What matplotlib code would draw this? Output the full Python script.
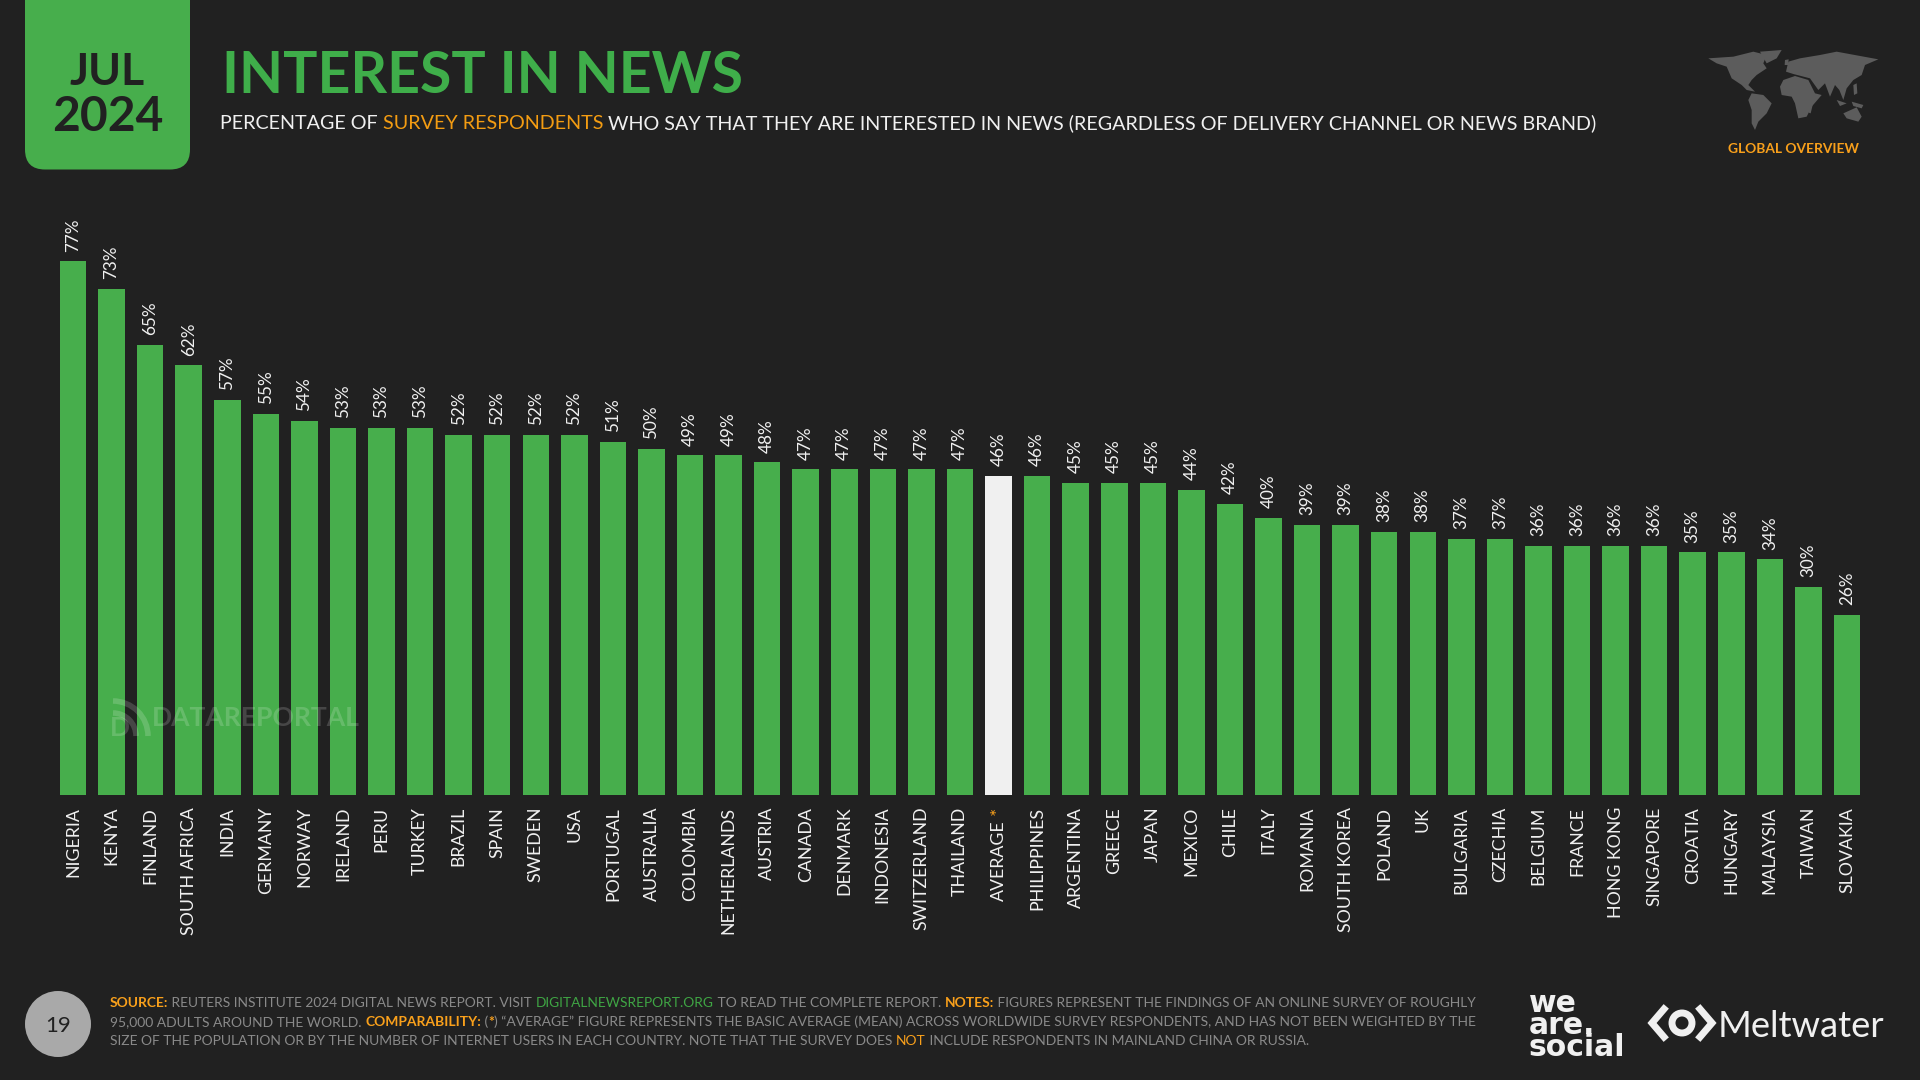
import matplotlib
matplotlib.use("Agg")
import matplotlib.pyplot as plt
from matplotlib.patches import FancyBboxPatch, Circle, Polygon, Arc

countries = ["NIGERIA","KENYA","FINLAND","SOUTH AFRICA","INDIA","GERMANY","NORWAY","IRELAND","PERU","TURKEY",
             "BRAZIL","SPAIN","SWEDEN","USA","PORTUGAL","AUSTRALIA","COLOMBIA","NETHERLANDS","AUSTRIA","CANADA",
             "DENMARK","INDONESIA","SWITZERLAND","THAILAND","AVERAGE","PHILIPPINES","ARGENTINA","GREECE","JAPAN","MEXICO",
             "CHILE","ITALY","ROMANIA","SOUTH KOREA","POLAND","UK","BULGARIA","CZECHIA","BELGIUM","FRANCE",
             "HONG KONG","SINGAPORE","CROATIA","HUNGARY","MALAYSIA","TAIWAN","SLOVAKIA"]
values = [77,73,65,62,57,55,54,53,53,53,
          52,52,52,52,51,50,49,49,48,47,
          47,47,47,47,46,46,45,45,45,44,
          42,40,39,39,38,38,37,37,36,36,
          36,36,35,35,34,30,26]
highlight = "AVERAGE"

BG = "#212121"; GREEN = "#47AE4C"; TITLE = "#3FAE4A"; WHITE = "#F0F0F0"
ORANGE = "#F9A01B"; GREY = "#8A8A8A"; LINK = "#3FA544"; MAP = "#5C5C5C"
FONT = "Lato"

fig = plt.figure(figsize=(19.2, 10.8), dpi=100, facecolor=BG)
W, H = 1920, 1080

step = 38.57
ax_l, ax_r = 73 - step / 2, 1847 + step / 2
base_y, top_y = 795, 200
ax = fig.add_axes([ax_l / W, 1 - base_y / H, (ax_r - ax_l) / W, (base_y - top_y) / H], facecolor="none", zorder=1)
ax.set_xlim(-0.5, len(values) - 0.5)
ax.set_ylim(0, (base_y - top_y) / 6.93)
colors = [WHITE if c == highlight else GREEN for c in countries]
bars = ax.bar(range(len(values)), values, width=26.5 / step, color=colors)
ax.bar_label(bars, labels=[f"{v}%" for v in values], rotation=90, padding=7, color=WHITE,
             fontsize=12.3, family=FONT)
ax.set_xticks(range(len(values)))
ax.set_xticklabels(["" if c == highlight else c for c in countries], rotation=90, family=FONT,
                   fontsize=12.8, color=WHITE, va="top", ha="center")
ax.tick_params(axis="x", length=0, pad=8.5)
ax.tick_params(axis="y", left=False, labelleft=False)
for s in ax.spines.values():
    s.set_visible(False)
i_avg = countries.index(highlight)
ax.annotate("*", xy=(i_avg, 0), xycoords=("data", "axes fraction"), xytext=(0, -8.5), textcoords="offset points",
            rotation=90, family=FONT, fontsize=14, color=ORANGE, ha="center", va="top")
ax.annotate(highlight, xy=(i_avg, 0), xycoords=("data", "axes fraction"), xytext=(0, -18), textcoords="offset points",
            rotation=90, family=FONT, fontsize=12.8, color=WHITE, ha="center", va="top")

ov = fig.add_axes([0, 0, 1, 1], facecolor="none", zorder=5)
ov.set_xlim(0, W); ov.set_ylim(H, 0); ov.axis("off")
renderer = fig.canvas.get_renderer()

def tw(s, fs, family, weight):
    t = ov.text(0, 0, s, fontsize=fs, family=family, weight=weight)
    w = t.get_window_extent(renderer).width
    t.remove()
    return w

def width(s, fs, family, weight):
    return tw("|" + s + "|", fs, family, weight) - tw("||", fs, family, weight)

def spans(parts, x, y, target, family=FONT, alpha=None):
    """parts: (text, colour, weight); scaled so the whole run spans the target width."""
    total = sum(width(p[0], 20, family, p[2]) for p in parts)
    fs = 20 * target / total
    for s, c, wt in parts:
        ov.text(x, y, s, fontsize=fs, family=family, weight=wt, color=c, va="baseline", ha="left", alpha=alpha)
        x += width(s, fs, family, wt)
    return fs

# badge
ov.add_patch(FancyBboxPatch((25, -40), 165, 209.5, boxstyle="round,pad=0,rounding_size=20", fc=GREEN, ec="none"))
spans([("JUL", BG, "bold")], 69, 85, 75)
spans([("2024", BG, "bold")], 52, 131, 111)

spans([("INTEREST IN NEWS", TITLE, "bold")], 222, 93, 520)
spans([("PERCENTAGE OF ", WHITE, "normal"), ("SURVEY RESPONDENTS", "#F39C12", "normal"),
       (" WHO SAY THAT THEY ARE INTERESTED IN NEWS (REGARDLESS OF DELIVERY CHANNEL OR NEWS BRAND)", WHITE, "normal")],
      220, 129, 1378)

# world map (decorative silhouette)
zx = lambda p: (1500 + p[0] / 3, p[1] / 3)
map_shapes = [
    [(625,175),(700,170),(760,155),(800,165),(790,190),(800,205),(770,225),(755,240),(745,255),(765,275),(740,270),(725,255),(695,235),(680,200),(650,190)],
    [(780,155),(845,150),(830,175),(800,190)],
    [(755,280),(790,285),(815,310),(800,340),(775,365),(765,390),(755,370),(755,330),(745,300)],
    [(850,240),(885,228),(925,240),(945,280),(965,285),(935,320),(920,350),(895,355),(885,310),(875,290),(845,285),(840,260)],
    [(858,215),(865,185),(900,175),(960,165),(1010,155),(1135,178),(1095,195),(1085,225),(1060,240),(1040,265),(1030,300),(1018,270),(1005,255),(990,290),(975,250),(955,270),(930,235),(880,222)],
    [(1030,340),(1070,322),(1085,350),(1075,365),(1040,355)],
    [(928,320),(938,315),(932,340),(926,338)],
    [(1010,300),(1040,310),(1020,318)],
    [(1055,305),(1090,315),(1085,325),(1060,318)],
    [(1060,255),(1070,250),(1072,280),(1062,285)],
    [(855,180),(866,178),(864,195),(854,195)],
]
for sh in map_shapes:
    ov.add_patch(Polygon([zx(p) for p in sh], closed=True, fc=MAP, ec="none"))
spans([("GLOBAL OVERVIEW", ORANGE, "bold")], 1728, 153, 131)

# watermark
spans([("DATAREPORTAL", "white", "bold")], 152, 726, 208, alpha=0.17)
for d, lw in ((70, 4), (46, 4)):
    ov.add_patch(Arc((113, 736), d, d, theta1=270, theta2=360, ec="white", lw=lw, alpha=0.17))
ov.text(110, 736, "D", fontsize=19, family=FONT, weight="bold", va="baseline", ha="left", color="white", alpha=0.17)

# footer
ov.add_patch(Circle((58, 1024), 33, fc="#A9A9A9", ec="none"))
ov.text(58, 1024, "19", fontsize=16, family=FONT, color=BG, ha="center", va="center_baseline")
spans([("SOURCE:", ORANGE, "bold"), (" REUTERS INSTITUTE 2024 DIGITAL NEWS REPORT. VISIT ", GREY, "normal"),
       ("DIGITALNEWSREPORT.ORG", LINK, "normal"), (" TO READ THE COMPLETE REPORT. ", GREY, "normal"),
       ("NOTES:", ORANGE, "bold"), (" FIGURES REPRESENT THE FINDINGS OF AN ONLINE SURVEY OF ROUGHLY", GREY, "normal")],
      110, 1007, 1367)
spans([("95,000 ADULTS AROUND THE WORLD. ", GREY, "normal"), ("COMPARABILITY:", ORANGE, "bold"), (" (", GREY, "normal"),
       ("*", ORANGE, "bold"), (") \u201cAVERAGE\u201d FIGURE REPRESENTS THE BASIC AVERAGE (MEAN) ACROSS WORLDWIDE SURVEY RESPONDENTS, AND HAS NOT BEEN WEIGHTED BY THE", GREY, "normal")],
      110, 1026, 1379)
spans([("SIZE OF THE POPULATION OR BY THE NUMBER OF INTERNET USERS IN EACH COUNTRY. NOTE THAT THE SURVEY DOES ", GREY, "normal"),
       ("NOT", ORANGE, "normal"), (" INCLUDE RESPONDENTS IN MAINLAND CHINA OR RUSSIA.", GREY, "normal")],
      110, 1045, 1206)

# logos
ov.text(1529, 1056, "we\nare.\nsocial", fontsize=21.5, family="DejaVu Sans", weight="bold", color=WHITE,
        va="baseline", ha="left", linespacing=0.7)
spans([("Meltwater", WHITE, "normal")], 1718, 1037, 167)
ov.plot([1664, 1652, 1664], [1009, 1023, 1037], color=WHITE, lw=5, solid_joinstyle="miter")
ov.plot([1700, 1712, 1700], [1009, 1023, 1037], color=WHITE, lw=5, solid_joinstyle="miter")
ov.add_patch(Circle((1682, 1023), 10, fc="none", ec=WHITE, lw=5))

fig.savefig("out.png", dpi=100, facecolor=BG)
